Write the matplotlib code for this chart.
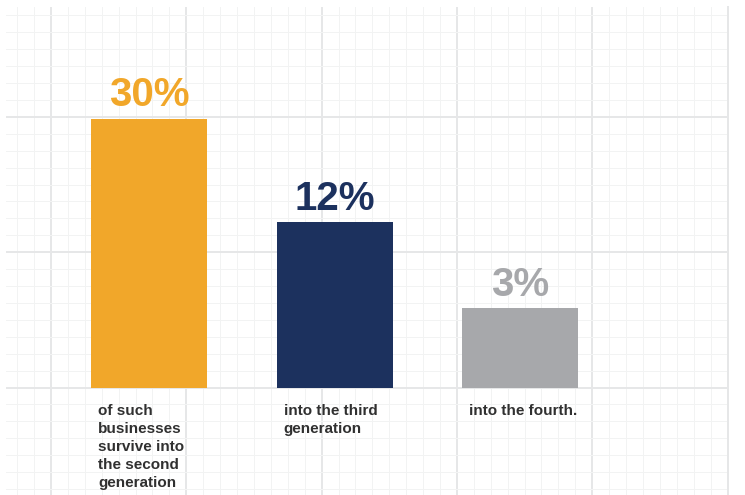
import numpy as np
import matplotlib.pyplot as plt

# data
shares = [30, 12, 3]
value_labels = ["30%", "12%", "3%"]
captions = [
    "of such\nbusinesses\nsurvive into\nthe second\ngeneration",
    "into the third\ngeneration",
    "into the fourth.",
]
colors = ["#F1A72A", "#1C315E", "#A7A8AB"]

plt.rcParams["font.family"] = ["Liberation Sans", "DejaVu Sans"]

W, H = 745, 495
fig = plt.figure(figsize=(W / 100, H / 100), dpi=100)
fig.patch.set_facecolor("white")

# axes box in pixels: left 6, right 728, top 7, bottom 495
left, right, top, bottom = 6, 728, 7, 495
base_y = 387.5
pos = [left / W, (H - bottom) / H, (right - left) / W, (bottom - top) / H]

# ---- background grid (graph paper) ----
ax_bg = fig.add_axes(pos, zorder=0)
major = 135.3
x0 = 51.0
ax_bg.set_xticks(np.arange(0, 6))
ax_bg.set_yticks(np.arange(-1, 3))
ax_bg.set_xticks(np.arange(-1, 6, 1 / 8), minor=True)
ax_bg.set_yticks(np.arange(-1, 3, 1 / 8), minor=True)
# limits after the ticks, set_xticks would widen them otherwise
ax_bg.set_xlim((left - x0) / major, (right - x0) / major)
ax_bg.set_ylim(-(bottom - base_y) / major, (base_y - top) / major)
# 1 px wide lines so the snapping does not make a moire pattern
ax_bg.grid(which="major", color="#E6E7E8", linewidth=1.44)
ax_bg.grid(which="minor", color="#F2F3F3", linewidth=0.72)
ax_bg.tick_params(which="both", length=0, labelbottom=False, labelleft=False)
for s in ax_bg.spines.values():
    s.set_visible(False)
ax_bg.spines["right"].set_visible(True)
ax_bg.spines["right"].set_color("#E6E7E8")
ax_bg.spines["right"].set_linewidth(1.44)

# ---- bars ----
ax = fig.add_axes(pos, zorder=1)
ax.patch.set_visible(False)

p = 0.53


def fwd(v):
    v = np.asarray(v, dtype=float)
    return np.sign(v) * np.abs(v) ** p


def inv(v):
    v = np.asarray(v, dtype=float)
    return np.sign(v) * np.abs(v) ** (1 / p)


ax.set_yscale("function", functions=(fwd, inv))
px_per_unit = 268.5 / shares[0] ** p
ax.set_ylim(inv(-(bottom - base_y) / px_per_unit), inv((base_y - top) / px_per_unit))

x = np.arange(len(shares))
step = 185.5
cx0 = 149.0
ax.set_xlim((left - cx0) / step, (right - cx0) / step)
width = 116 / step
ax.bar(x, shares, width=width, color=colors)

for i, (v, lab, col, cap) in enumerate(zip(shares, value_labels, colors, captions)):
    ax.annotate(lab, xy=(x[i], v), xytext=(0, 9), textcoords="offset points",
                ha="center", va="baseline", fontsize=29, fontweight="bold",
                color=col)
    ax.annotate(cap, xy=(x[i] - width / 2, 0), xytext=(5.2, -12),
                textcoords="offset points", ha="left", va="top",
                fontsize=11, fontweight="bold", color="#303030",
                linespacing=1.36)

ax.axis("off")

fig.savefig("out.png", dpi=100, facecolor="white")
